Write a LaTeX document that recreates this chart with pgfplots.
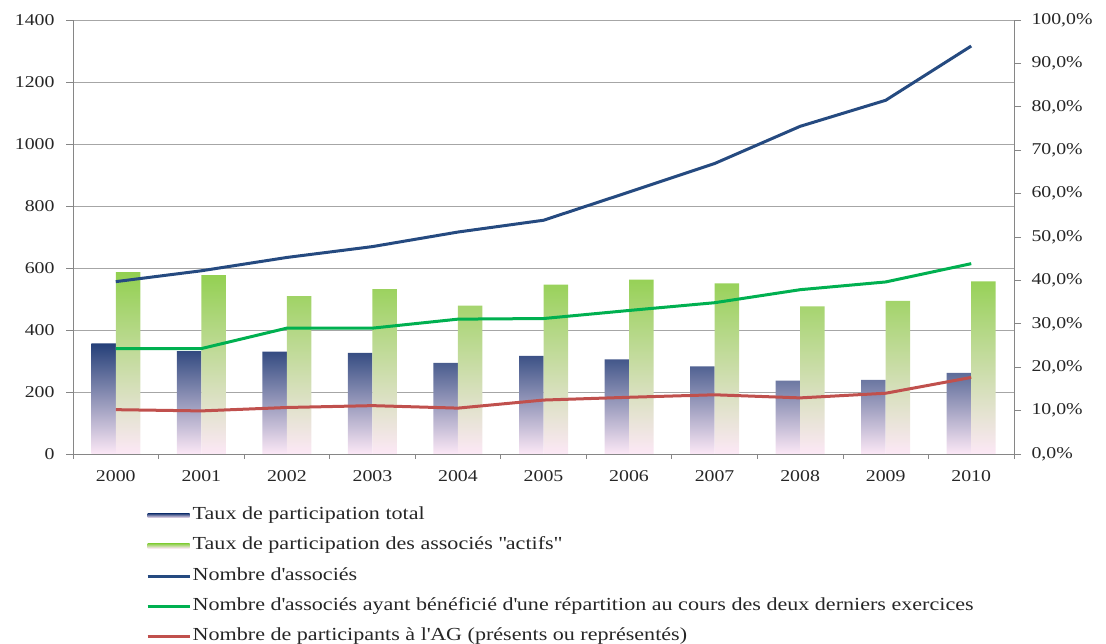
\documentclass[border=0pt]{standalone}
\usepackage{fontspec}
\setmainfont{Liberation Serif}[FakeStretch=1.2]
\usepackage{pgfplots}
\pgfplotsset{compat=1.18}
\definecolor{navyL}{HTML}{254A80}
\definecolor{greenL}{HTML}{00B050}
\definecolor{redL}{HTML}{C0504D}
\definecolor{barN}{HTML}{243F78}
\definecolor{barG}{HTML}{92D050}
\definecolor{barP}{HTML}{FCE8F6}
\definecolor{gridc}{HTML}{A6A6A6}
\definecolor{axc}{HTML}{868686}
\pgfplotsset{common/.style={
  scale only axis, width=941pt, height=434pt,
  xmin=-0.5, xmax=10.5,
  tick label style={font=\fontsize{16.5}{19}\selectfont, text=black!85},
  /pgf/number format/assume math mode=true,
  /pgf/number format/1000 sep={},
  tick align=outside, major tick length=7pt, minor tick length=5pt,
}}
\begin{document}
\begin{tikzpicture}
\begin{axis}[common, name=ax,
  ymin=0, ymax=1400, ytick={0,200,...,1400},
  yticklabel={\pgfmathprintnumber[fixed,precision=0,1000 sep={}]{\tick}},
  axis x line*=bottom, axis y line*=left,
  axis line style={axc, line width=0.8pt},
  ymajorgrids, grid style={gridc, line width=0.8pt},
  xtick={0,...,10},
  xticklabels={2000,2001,2002,2003,2004,2005,2006,2007,2008,2009,2010},
  major x tick style={draw=none},
  minor xtick={-0.5,0.5,...,10.5},
  minor x tick style={axc, line width=0.8pt},
  y tick style={axc, line width=0.8pt},
  xticklabel style={yshift=-6pt},
  every y tick label/.append style={anchor=east, xshift=-8pt},
]
\end{axis}
\begin{axis}[common,
  ymin=0, ymax=100, ytick={0,10,...,100},
  axis y line*=right, axis x line=none,
  axis line style={axc, line width=0.8pt},
  y tick style={axc, line width=0.8pt},
  every y tick label/.append style={anchor=west, xshift=7pt},
  yticklabel={\pgfmathprintnumber[fixed,fixed zerofill,precision=1,use comma]{\tick}\%},
  ybar=0pt, bar width=24.5pt,
]
\addplot[ybar, draw=none, top color=barN, bottom color=barP] coordinates {
 (0,25.5) (1,23.7) (2,23.6) (3,23.3) (4,21.0) (5,22.6) (6,21.8) (7,20.2) (8,16.9) (9,17.1) (10,18.7)};
\addplot[ybar, draw=none, top color=barG, bottom color=barP] coordinates {
 (0,41.9) (1,41.2) (2,36.4) (3,38.0) (4,34.2) (5,39.0) (6,40.2) (7,39.3) (8,34.0) (9,35.3) (10,39.8)};
\end{axis}
\begin{axis}[common, hide axis,
  ymin=0, ymax=1400,
  legend image code/.code={\draw[#1] (0pt,0pt) -- (42pt,0pt);},
  legend cell align=left,
  legend style={at={(0,0)}, anchor=north west, xshift=70pt, yshift=-51.5pt,
    draw=none, fill=none, font=\fontsize{18.4}{21}\selectfont, text=black!85,
    row sep=14.3pt,
    nodes={inner sep=0pt, inner xsep=1.5pt, text height=12pt, text depth=4pt}},
]
\addlegendimage{legend image code/.code={\path[draw=none, top color=barN, bottom color=barP] (0pt,-2.2pt) rectangle (42pt,2.2pt);}}
\addlegendentry{Taux de participation total}
\addlegendimage{legend image code/.code={\path[draw=none, top color=barG, bottom color=barP] (0pt,-2.2pt) rectangle (42pt,2.2pt);}}
\addlegendentry{Taux de participation des associés \textquotedbl actifs\textquotedbl}
\addplot[navyL, line width=3pt, line join=round] coordinates {
 (0,556) (1,591) (2,634) (3,669) (4,716) (5,754) (6,845) (7,937) (8,1057) (9,1141) (10,1316)};
\addlegendentry{Nombre d\textquotesingle associés}
\addplot[greenL, line width=3pt, line join=round] coordinates {
 (0,340) (1,340) (2,406) (3,406) (4,435) (5,437) (6,463) (7,488) (8,530) (9,555) (10,614)};
\addlegendentry{Nombre d\textquotesingle associés ayant bénéficié d\textquotesingle une répartition au cours des deux derniers exercices}
\addplot[redL, line width=3pt, line join=round] coordinates {
 (0,143) (1,139) (2,150) (3,156) (4,148) (5,174) (6,183) (7,191) (8,181) (9,196) (10,247)};
\addlegendentry{Nombre de participants à l\textquotesingle AG (présents ou représentés)}
\end{axis}
\pgfresetboundingbox
\path ([xshift=-73pt,yshift=-190pt]ax.south west) rectangle ([xshift=92pt,yshift=20pt]ax.north east);
\end{tikzpicture}
\end{document}
